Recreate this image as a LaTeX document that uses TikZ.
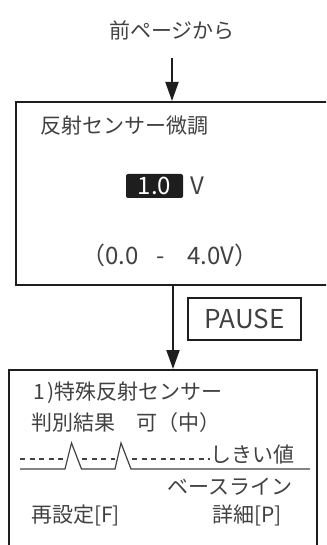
\documentclass[tikz,border=0pt]{standalone}
\usepackage{fontspec}
\setmainfont{Noto Sans CJK JP}
\usetikzlibrary{arrows.meta,positioning}
\definecolor{ink}{RGB}{65,65,65}
\definecolor{frame}{RGB}{30,30,30}

\begin{document}
\begin{tikzpicture}[x=1pt, y=-1pt,
          panel/.style={draw=frame, line width=2pt, anchor=north west, inner sep=0pt},
          lbl/.style={font=\fontsize{21}{24}\selectfont, text=ink, inner sep=0pt},
          big/.style={font=\fontsize{24}{28}\selectfont, text=ink, inner sep=0pt},
          valbox/.style={fill=frame, rounded corners=2pt, text=white,
                         minimum width=57pt, minimum height=24pt, inner sep=0pt,
                         font=\fontsize{24}{28}\selectfont},
          pausebox/.style={draw=frame, line width=2.3pt, text=ink,
                           minimum width=113pt, minimum height=42pt,
                           font=\fontsize{26}{30}\selectfont},
          arr/.style={-{Triangle[length=19pt, width=13pt]}, line width=2pt, frame},
          wave/.style={line width=1.2pt, ink}
        ]
          \useasboundingbox (0,0) rectangle (326,545);
          \clip (0,0) rectangle (326,545);
          % first screen
          \node[lbl] (prev) at (172,30) {前ページから};
          \coordinate (start) at (172,58);
          \node[panel, minimum width=340pt, minimum height=183pt] (adjust) at (15,101) {};
          \node[lbl, anchor=west] (title) at (40,126) {反射センサー微調};
          \node[valbox] (val) at (154.5,186) {1.0};
          \node[big, right=7pt of val] (unit) {V};
          \node[big] (range) at (170,255) {（0.0\hspace{18pt}-\hspace{22pt}4.0V）};
          \draw[arr] (start) -- (start |- adjust.north);
          % second screen
          \node[panel, minimum width=308pt, minimum height=200pt] (result) at (8,369) {};
          \node[pausebox] (pause) at (244.5,319) {PAUSE};
          \draw[arr] (adjust.south -| 173,0) -- (result.north -| 173,0);
          \node[lbl, anchor=west] (sensor) at (33,393) {1\hspace{3pt})特殊反射センサー};
          \node[lbl, anchor=west] (judge) at (31,423) {判別結果　可（中）};
          \node[lbl, anchor=west] (thr) at (210,455) {しきい値};
          \node[lbl, anchor=east] (base) at (293,487) {ベースライン};
          \draw[wave] (20,469) -- (65,469) -- (71.5,443) -- (81.5,469) -- (115,469)
                      -- (121,443) -- (131,469) -- (310,469);
          \draw[wave, dash pattern=on 5pt off 4.5pt] (20,459) -- (65,459);
          \draw[wave, dash pattern=on 5pt off 4.5pt] (82,459) -- (115,459);
          \draw[wave, dash pattern=on 5pt off 4.5pt] (132,459) -- (thr.west |- 0,459);
          \node[lbl, anchor=west] (reset) at (31,515) {再設定[F]};
          \node[lbl, anchor=west] (detail) at (212,515) {詳細[P]};
        \end{tikzpicture}
\end{document}
